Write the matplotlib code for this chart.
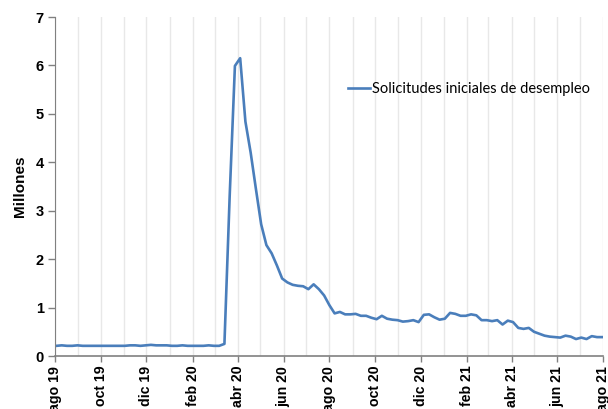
import matplotlib
matplotlib.use('Agg')
import matplotlib.pyplot as plt
import numpy as np
import pandas as pd

# weekly initial claims, millions (week ending Saturday)
start_week = '2019-08-03'
claims = [
    0.21, 0.22, 0.21, 0.21, 0.22, 0.21, 0.21, 0.21, 0.21, 0.21,
    0.21, 0.21, 0.21, 0.21, 0.22, 0.22, 0.21, 0.22, 0.23, 0.22,
    0.22, 0.22, 0.21, 0.21, 0.22, 0.21, 0.21, 0.21, 0.21, 0.22,
    0.21, 0.21, 0.25, 3.30, 5.99, 6.15, 4.84, 4.20, 3.45, 2.72,
    2.29, 2.12, 1.87, 1.60, 1.52, 1.47, 1.45, 1.44, 1.38, 1.48,
    1.38, 1.25, 1.05, 0.88, 0.91, 0.86, 0.86, 0.87, 0.83, 0.83,
    0.79, 0.76, 0.83, 0.77, 0.75, 0.74, 0.71, 0.72, 0.74, 0.70,
    0.85, 0.86, 0.80, 0.75, 0.77, 0.89, 0.87, 0.83, 0.83, 0.86,
    0.84, 0.74, 0.74, 0.72, 0.74, 0.65, 0.73, 0.70, 0.58, 0.56,
    0.58, 0.50, 0.46, 0.42, 0.40, 0.39, 0.38, 0.42, 0.40, 0.35,
    0.38, 0.35, 0.41, 0.39, 0.39,
]
tick_dates = ['2019-08-01', '2019-10-01', '2019-12-01', '2020-02-01', '2020-04-01',
              '2020-06-01', '2020-08-01', '2020-10-01', '2020-12-01', '2021-02-01',
              '2021-04-01', '2021-06-01', '2021-08-01']
tick_labels = ['ago 19', 'oct 19', 'dic 19', 'feb 20', 'abr 20', 'jun 20', 'ago 20',
               'oct 20', 'dic 20', 'feb 21', 'abr 21', 'jun 21', 'ago 21']

weeks = pd.date_range(start_week, periods=len(claims), freq='W-SAT')
months = pd.date_range('2019-08-01', '2021-08-01', freq='MS')

plt.rcParams['font.family'] = ['Lato', 'DejaVu Sans']
bold_font = ['Liberation Sans', 'DejaVu Sans']

fig = plt.figure(figsize=(6.08, 4.09), dpi=100)
ax = fig.add_axes([55 / 608, 1 - 356 / 409, 548 / 608, 339 / 409])

for m in months:
    ax.axvline(m, color='#e8e8e8', lw=1.0, zorder=0)

ax.plot(weeks, claims, color='#4a7ebb', lw=1.9, label='Solicitudes iniciales de desempleo')

ax.set_xlim(pd.Timestamp('2019-08-01'), pd.Timestamp('2021-08-01'))
ax.set_ylim(0, 7)
ax.set_yticks(range(0, 8))
ax.set_xticks(pd.to_datetime(tick_dates))
ax.set_xticklabels(tick_labels, rotation=90, fontweight='bold', fontsize=10.2, family=bold_font)
ax.set_yticklabels([str(v) for v in range(0, 8)], fontweight='bold', fontsize=10.5, family=bold_font)
ax.tick_params(axis='both', direction='out', length=4, width=1, color='#808080', pad=3)
ax.tick_params(axis='y', length=5)

ax.spines['top'].set_visible(False)
ax.spines['right'].set_visible(False)
ax.spines['left'].set_color('#808080')
ax.spines['bottom'].set_color('#808080')
ax.spines['bottom'].set_linewidth(1.2)

ax.set_ylabel('Millones', fontweight='bold', fontsize=11, labelpad=6, family=bold_font)

ax.legend(loc='center left', bbox_to_anchor=((348 - 55) / 548, (356 - 89) / 339),
          frameon=False, prop={'family': ['Lato', 'DejaVu Sans'], 'size': 10.5},
          handlelength=1.5, handletextpad=0.15, borderaxespad=0, borderpad=0)

fig.savefig('out.png', dpi=100)
